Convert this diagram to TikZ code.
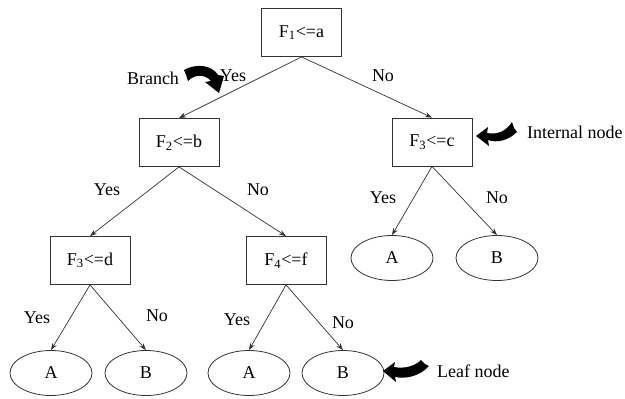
\documentclass[tikz,border=0pt]{standalone}
\usepackage{fontspec}
\setmainfont{Liberation Serif}
\usetikzlibrary{arrows.meta,shapes.geometric}
\begin{document}
\begin{tikzpicture}[x=1pt,y=-1pt,
  every node/.style={font=\fontsize{18}{21}\selectfont, inner sep=0pt},
  testbox/.style={draw=black!80, line width=0.8pt, minimum width=80pt, minimum height=48pt},
  leaf/.style={draw=black!80, line width=0.8pt, ellipse, minimum width=82pt, minimum height=45pt},
  edge/.style={draw=black!80, line width=0.7pt, -{Stealth[length=7pt,width=5pt]}},
  swoosh/.style={fill=black, draw=none}]
\useasboundingbox (0,0) rectangle (625,399);
% internal nodes
\node[testbox] (r) at (301.5,32.5) {F\textsubscript{1}<=a};
\node[testbox] (f2) at (179,142.5) {F\textsubscript{2}<=b};
\node[testbox] (f3c) at (432,142) {F\textsubscript{3}<=c};
\node[testbox] (f3d) at (90,260.5) {F\textsubscript{3}<=d};
\node[testbox] (f4) at (286,260.5) {F\textsubscript{4}<=f};
% leaves
\node[leaf] (a1) at (51,373) {A};
\node[leaf] (b1) at (146,373) {B};
\node[leaf] (a2) at (249,373) {A};
\node[leaf] (b2) at (343,373) {B};
\node[leaf] (a3) at (392,258) {A};
\node[leaf] (b3) at (497,258) {B};
% edges
\draw[edge] (r.south) -- (f2.north);
\draw[edge] (r.south) -- (f3c.north);
\draw[edge] (f2.south) -- (f3d.north);
\draw[edge] (f2.south) -- (f4.north);
\draw[edge] (f3c.south) -- (a3.north);
\draw[edge] (f3c.south) -- (b3.north);
\draw[edge] (f3d.south) -- (a1.north);
\draw[edge] (f3d.south) -- (b1.north);
\draw[edge] (f4.south) -- (a2.north);
\draw[edge] (f4.south) -- (b2.north);
% edge labels
\node (y1) at (233,76) {Yes};
\node (n1) at (383,76) {No};
\node (y2) at (107,190) {Yes};
\node (n2) at (258,190) {No};
\node (y3) at (383,198) {Yes};
\node (n3) at (497,198) {No};
\node (y4) at (37,318) {Yes};
\node (n4) at (157,316) {No};
\node (y5) at (237,320) {Yes};
\node (n5) at (343,323) {No};
% annotations
\node (br) at (153,78) {Branch};
\node[anchor=west] (in) at (527,132) {Internal node};
\node[anchor=west] (ln) at (437,371) {Leaf node};
% swoosh arrows
\path[swoosh] (184,70) .. controls (196,63) and (212,65) .. (218,75)
  -- (224,76) -- (219,93) -- (205,82) -- (211,81)
  .. controls (205,74) and (195,74) .. (188,81) -- (186,75) -- cycle;
\path[swoosh] (476,136) -- (488,127) -- (487,133)
  .. controls (498,135) and (506,131) .. (512,122)
  -- (514,128) -- (517,132)
  .. controls (508,141) and (496,143) .. (488,140)
  -- (489,146) -- cycle;
\path[swoosh] (383,371) -- (395,362) -- (394,367)
  .. controls (405,369) and (415,366) .. (421,360)
  -- (425,364) -- (429,366)
  .. controls (419,377) and (405,379) .. (395,377)
  -- (396,382) -- cycle;
\end{tikzpicture}
\end{document}
